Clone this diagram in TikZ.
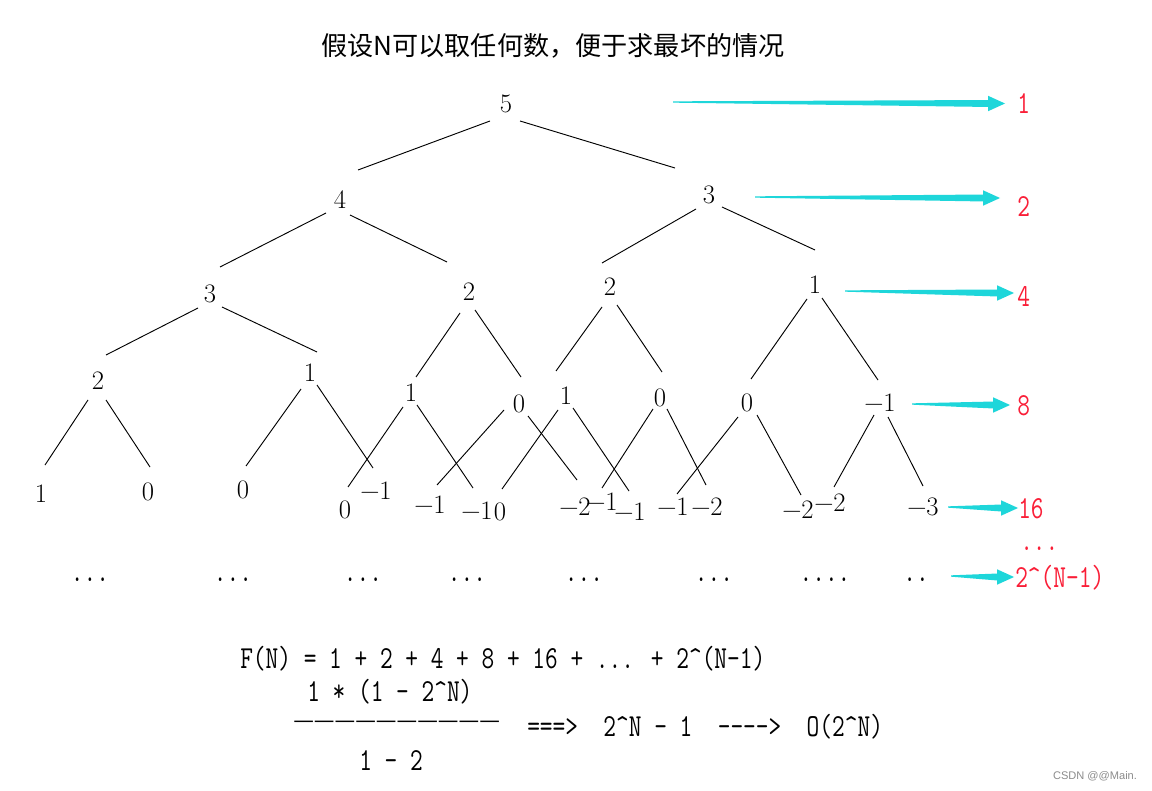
\documentclass[tikz,border=0pt]{standalone}
\usepackage{fontspec}
\usepackage{graphicx}
\usetikzlibrary{calc}
\newfontfamily\cjk{Noto Sans CJK SC}
\newfontfamily\wmfont{Liberation Sans}
\newfontfamily\dashfont{DejaVu Sans}
\definecolor{arrowcyan}{RGB}{30,214,218}
\definecolor{labred}{RGB}{250,30,55}
\newcommand\tall[1]{\scalebox{1}[1.3]{#1}}
\newcommand\hyk{-\kern0pt}
\newcommand\cyarrow[2]{%
  \fill[arrowcyan] let \p1=(#1), \p2=(#2) in
   (\x1,\y1+0.5pt) -- (\x2-12.75pt,\y2+2.6pt) -- (\x2-12.75pt,\y2+5.8pt) -- (\x2,\y2)
   -- (\x2-12.75pt,\y2-5.8pt) -- (\x2-12.75pt,\y2-2.6pt) -- (\x1,\y1-0.5pt) -- cycle;}
\tikzset{
  tn/.style={inner sep=0pt, font=\fontsize{20}{24}\selectfont},
  branch/.style={line width=0.7pt},
  mono/.style={inner sep=0pt, font=\ttfamily\fontsize{18.5}{20}\selectfont},
  redlab/.style={mono, text=labred, anchor=west},
}
\begin{document}
\begin{tikzpicture}[x=0.75pt,y=-0.75pt]
\fill[white] (0,0) rectangle (1152,791);
\useasboundingbox (0,0) rectangle (1152,791);

% title
\node[inner sep=0pt, font=\cjk\fontsize{19.6}{24}\selectfont] (title) at (553,46) {假设N可以取任何数，便于求最坏的情况};

% tree
\node[tn] (r) at (506,104) {5};
\node[tn] (a) at (340,200) {4};
\node[tn] (b) at (709,195) {3};
\node[tn] (c1) at (210,294) {3};
\node[tn] (c2) at (469,292) {2};
\node[tn] (c3) at (610,287) {2};
\node[tn] (c4) at (815,285) {1};
\node[tn] (d1) at (98,381) {2};
\node[tn] (d2) at (310,373) {1};
\node[tn] (d3) at (411,393) {1};
\node[tn] (d4) at (519,404) {0};
\node[tn] (d5) at (566,396) {1};
\node[tn] (d6) at (660,398) {0};
\node[tn] (d7) at (747,403) {0};
\node[tn] (d8) at (880,403) {−1};
\node[tn] (e1) at (41,494) {1};
\node[tn] (e2) at (148,492) {0};
\node[tn] (e3) at (243,490) {0};
\node[tn] (e4) at (345,510) {0};
\node[tn] (e5) at (376,491) {−1};
\node[tn] (e6) at (430,505) {−1};
\node[tn] (e7) at (477,511) {−1};
\node[tn] (e8) at (500,512) {0};
\node[tn] (e9) at (575,507) {−2};
\node[tn] (e10) at (602,502) {−1};
\node[tn] (e11) at (630,512) {−1};
\node[tn] (e12) at (673,507) {−1};
\node[tn] (e13) at (707,507) {−2};
\node[tn] (e14) at (798,510) {−2};
\node[tn] (e15) at (830,503) {−2};
\node[tn] (e16) at (923,507) {−3};

\foreach \p/\c/\sx/\sy/\ex/\ey in {
  r/a/-16/17/18/-30, r/b/14/17/-34/-27,
  a/c1/-14/13/10/-27, a/c2/10/15/-22/-30,
  b/c3/-13/14/-8/-24, b/c4/13/12/0/-35,
  c1/d1/-12/14/8/-26, c1/d2/12/13/7/-21,
  c2/d3/-9/21/5/-16, c2/d4/6/18/2/-27,
  c3/d5/-8/20/-10/-25, c3/d6/7/18/2/-26,
  c4/d7/-8/14/4/-24, c4/d8/7/13/-2/-23,
  d1/e1/-10/19/4/-29, d1/e2/8/19/2/-25,
  d2/e3/-9/16/3/-24, d2/e5/7/12/-3/-23,
  d3/e4/-8/14/3/-23, d3/e7/6/12/-4/-23,
  d4/e6/-15/6/7/-20, d4/e9/9/12/2/-27,
  d5/e8/-8/14/2/-23, d5/e11/7/12/-1/-21,
  d6/e10/-7/11/0/-14, d6/e13/7/11/-1/-22,
  d7/e12/-9/14/4/-13, d7/e14/10/12/3/-15,
  d8/e15/-6/12/4/-16, d8/e16/8/14/0/-21}
  \draw[branch] ($(\p.center)+(\sx,\sy)$) -- ($(\c.center)+(\ex,\ey)$);

% dots row
\node[mono] (dots1) at (90,580) {\tall{...}};
\node[mono] (dots2) at (233,580) {\tall{...}};
\node[mono] (dots3) at (363,580) {\tall{...}};
\node[mono] (dots4) at (467,580) {\tall{...}};
\node[mono] (dots5) at (584,580) {\tall{...}};
\node[mono] (dots6) at (714,580) {\tall{...}};
\node[mono] (dots7) at (825,580) {\tall{....}};
\node[mono] (dots8) at (916,580) {\tall{..}};

% red labels
\node[redlab] (l1) at (1017,104) {\tall{1}};
\node[redlab] (l2) at (1017,207) {\tall{2}};
\node[redlab] (l3) at (1017,296) {\tall{4}};
\node[redlab] (l4) at (1017,406) {\tall{8}};
\node[redlab] (l5) at (1018,509) {\tall{16}};
\node[redlab] (l6) at (1020,549) {\tall{...}};
\node[redlab] (l7) at (1015,578) {\tall{2\textasciicircum(N\hyk1)}};

% cyan arrows
\coordinate (s1) at (673,102);   \coordinate (t1) at (1005,103.5);
\coordinate (s2) at (755,197);   \coordinate (t2) at (1000,198);
\coordinate (s3) at (845,291);   \coordinate (t3) at (1014,293);
\coordinate (s4) at (912,404);   \coordinate (t4) at (1010,405);
\coordinate (s5) at (948,507);   \coordinate (t5) at (1018,508);
\coordinate (s6) at (951,576);   \coordinate (t6) at (1014,577);
\cyarrow{s1}{t1}
\cyarrow{s2}{t2}
\cyarrow{s3}{t3}
\cyarrow{s4}{t4}
\cyarrow{s5}{t5}
\cyarrow{s6}{t6}

% formula
\node[mono, anchor=west] (f1) at (240,659) {\tall{F(N) = 1 + 2 + 4 + 8 + 16 + ... + 2\textasciicircum(N\hyk1)}};
\node[mono, anchor=west] (f2) at (307,692) {\tall{1 * (1 \hyk{} 2\textasciicircum N)}};
\node[inner sep=0pt, anchor=west, font=\dashfont\fontsize{15.5}{16}\selectfont] (f3) at (293,724) {——————————};
\node[mono, anchor=west] (f4) at (527,727) {\tall{===>~~2\textasciicircum N \hyk{} 1~~\hyk\hyk\hyk\hyk>~~O(2\textasciicircum N)}};
\node[mono, anchor=west] (f5) at (359,761) {\tall{1 \hyk{} 2}};

% watermark
\node[inner sep=0pt, text=black!45, font=\wmfont\fontsize{8.3}{10}\selectfont] (wm) at (1095,776) {CSDN @@Main.};
\end{tikzpicture}
\end{document}
